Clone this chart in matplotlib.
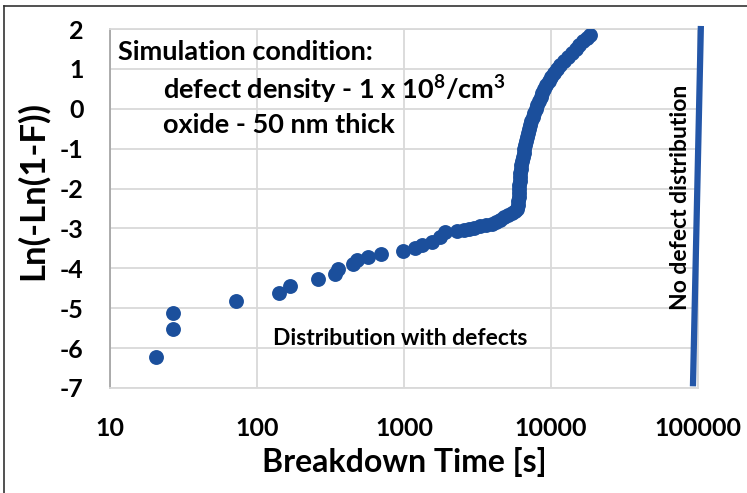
import numpy as np
import matplotlib.pyplot as plt
from matplotlib.lines import Line2D

plt.rcParams['font.family'] = ['Lato', 'DejaVu Sans']
plt.rcParams['font.weight'] = 'bold'
plt.rcParams['axes.unicode_minus'] = False
plt.rcParams['mathtext.fontset'] = 'custom'
plt.rcParams['mathtext.rm'] = 'Lato:bold'
plt.rcParams['mathtext.default'] = 'rm'

# breakdown times [s] and Ln(-Ln(1-F)) for the distribution with defects
t_defect = [20.5, 26.7, 26.9, 72, 142, 167, 259, 341, 357, 452, 476, 572, 694,
            989, 1188, 1318, 1542, 1758, 1901, 2306, 2550, 2782, 3000, 3289,
            3600, 3953, 4200, 4500, 4800, 5100, 5400, 5700, 5850, 5950, 6000,
            6030, 6060, 6080, 6100, 6130, 6160, 6200, 6240, 6290, 6360, 6440,
            6520, 6600, 6700, 6800, 6900, 7000, 7120, 7230, 7350, 7520, 7680,
            7850, 8050, 8250, 8500, 8750, 9000, 9300, 9650, 10000, 10400,
            10900, 11500, 12200, 13000, 13800, 14700, 15600, 16600, 17600, 18400]
f_defect = [-6.22, -5.52, -5.13, -4.83, -4.61, -4.43, -4.26, -4.15, -4.01, -3.9,
            -3.78, -3.71, -3.63, -3.57, -3.48, -3.42, -3.33, -3.21, -3.08, -3.07,
            -3.05, -3.01, -2.98, -2.94, -2.92, -2.88, -2.84, -2.78, -2.72, -2.65,
            -2.6, -2.55, -2.5, -2.4, -2.3, -2.2, -2.1, -2.0, -1.9, -1.8, -1.7,
            -1.6, -1.5, -1.4, -1.3, -1.2, -1.1, -1.0, -0.9, -0.8, -0.7, -0.6,
            -0.5, -0.4, -0.3, -0.2, -0.1, 0.0, 0.1, 0.2, 0.3, 0.4, 0.5, 0.6, 0.7,
            0.8, 0.9, 1.0, 1.1, 1.2, 1.3, 1.4, 1.5, 1.6, 1.7, 1.78, 1.85]

# no defect distribution (nearly vertical line)
t_nodefect = [92500, 104500]
f_nodefect = [-6.88, 2.0]

x_ticks = [10, 100, 1000, 10000, 100000]
x_labels = ['10', '100', '1000', '10000', '100000']
y_ticks = [2, 1, 0, -1, -2, -3, -4, -5, -6, -7]

blue = '#1b4f9c'

fig = plt.figure(figsize=(7.47, 4.93), dpi=100)
ax = fig.add_axes([0.1473, 0.213, 0.7871, 0.728])

ax.scatter(t_defect, f_defect, s=115, color=blue, zorder=3, linewidths=0)
ax.plot(t_nodefect, f_nodefect, color='#2356a8', lw=4.5, zorder=3, clip_on=False)

ax.set_xscale('log')
ax.set_xlim(10, 100000)
ax.set_ylim(-7, 2)
ax.set_xticks(x_ticks)
ax.set_xticklabels(x_labels)
ax.minorticks_off()
ax.set_yticks(y_ticks)
ax.tick_params(length=0, labelsize=18)
ax.tick_params(axis='x', pad=21)
ax.tick_params(axis='y', pad=19)
ax.grid(True, color='#d9d9d9', lw=1.3)
ax.set_axisbelow(True)
for s in ax.spines.values():
    s.set_color('#d9d9d9')
    s.set_linewidth(1.3)
ax.spines['left'].set_color('#a6a6a6')

ax.set_xlabel('Breakdown Time [s]', fontsize=23, fontweight='bold', labelpad=5)
ax.set_ylabel('Ln(-Ln(1-F))', fontsize=25, fontweight='bold')
ax.yaxis.set_label_coords(-0.105, 0.55)

ax.text(0.013, 0.936, 'Simulation condition:', transform=ax.transAxes,
        fontsize=19.5, fontweight='bold', va='center', ha='left')
ax.text(0.09, 0.83, 'defect density - 1 x 10$^{8}$/cm$^{3}$', transform=ax.transAxes,
        fontsize=19.5, fontweight='bold', va='center', ha='left')
ax.text(0.09, 0.733, 'oxide - 50 nm thick', transform=ax.transAxes,
        fontsize=19.5, fontweight='bold', va='center', ha='left')
ax.text(0.493, 0.139, 'Distribution with defects', transform=ax.transAxes,
        fontsize=16.5, fontweight='bold', va='center', ha='center')
ax.text(0.971, 0.532, 'No defect distribution', transform=ax.transAxes,
        fontsize=16.5, fontweight='bold', va='center', ha='center', rotation=90)

# outer frame
fig.add_artist(Line2D([0.005, 1.0], [0.988, 0.988], color='#333333', lw=1.2))
fig.add_artist(Line2D([0.005, 0.005], [0.0, 0.988], color='#333333', lw=1.2))

fig.savefig('out.png', dpi=100)
